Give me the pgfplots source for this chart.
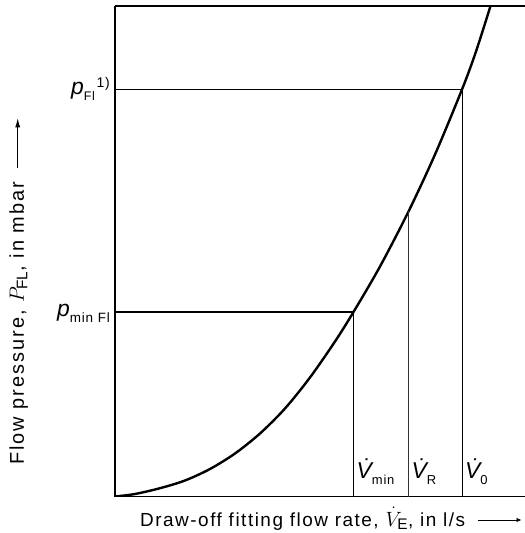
\documentclass[border=0pt]{standalone}
\usepackage{fontspec}
\setmainfont{Liberation Sans}[LetterSpace=6]
\usepackage{pgfplots}
\pgfplotsset{compat=1.18}
\usetikzlibrary{arrows.meta}

% symbol helpers
\newcommand{\bigsym}[1]{{\fontsize{23}{23}\selectfont\itshape #1}}
\newcommand{\subt}[2][12]{{\fontsize{#1}{#1}\selectfont\raisebox{-6bp}{#2}}}
\newcommand{\Vdot}{\bigsym{\.V}}
\newcommand{\bigmath}[1]{{\fontsize{22}{22}\selectfont$#1$}}

\begin{document}
\begin{tikzpicture}
\begin{axis}[
    scale only axis,
    width=410bp, height=490.5bp,
    xmin=0, xmax=410, ymin=0, ymax=490.5,
    axis x line=box, axis y line=left,
    axis line style={-, line width=1.6bp},
    every outer x axis line/.append style={-},
    every outer y axis line/.append style={-},
    xtick=\empty, ytick=\empty,
]
% flow pressure curve
\addplot[black, line width=2.4bp, smooth] coordinates {
    (0,0) (20,2.5) (45,8.3) (70,16) (95,27.5) (120,43) (145,63)
    (170,88) (195,119) (220,155) (238.5,184.5) (265,230) (293.5,285)
    (320,342) (347,407) (361,445) (375.5,490.5)
};
% reference lines
\addplot[black, line width=1.3bp] coordinates {(0,407) (347,407)};
\addplot[black, line width=1.3bp] coordinates {(0,184.5) (238.5,184.5)};
\addplot[black, line width=0.9bp] coordinates {(347,407) (347,0)};
\addplot[black, line width=0.9bp] coordinates {(238.5,184.5) (238.5,0)};
\addplot[black!80, line width=0.8bp] coordinates {(293.5,285) (293.5,0)};

\coordinate (pfl) at (axis cs:0,407);
\coordinate (pmin) at (axis cs:0,184.5);
\coordinate (vmin) at (axis cs:238.5,18.5);
\coordinate (vr) at (axis cs:293.5,18.5);
\coordinate (vo) at (axis cs:347,18.5);
\end{axis}

\node[anchor=base east, inner sep=0pt, xshift=-5bp, yshift=-5bp] at (pfl)
    {\bigsym{p}\subt[12.5]{Fl}\,\raisebox{7bp}{\fontsize{14}{14}\selectfont 1)}};
\node[anchor=base east, inner sep=0pt, xshift=-5bp, yshift=-5bp] at (pmin)
    {\bigsym{p}\subt[13.5]{min Fl}};

\node[anchor=base west, inner sep=0pt, xshift=3bp] at (vmin) {\Vdot\subt[13]{min}};
\node[anchor=base west, inner sep=0pt, xshift=3bp] at (vr) {\Vdot\subt[13]{R}};
\node[anchor=base west, inner sep=0pt, xshift=3bp] at (vo) {\Vdot\subt[13]{0}};

\node[anchor=base west, inner sep=0pt, font=\fontsize{19}{22}\selectfont\addfontfeatures{LetterSpace=8}] at (25bp,-29.5bp)
    {Draw-off fitting flow rate, \bigmath{\dot V_{\mathrm{E}}}, in l/s\;
     \tikz[baseline=-0.6ex]\draw[line width=0.8bp, -{Latex[length=5bp,width=4.5bp]}] (0,0)--(44bp,0);};
\node[rotate=90, anchor=base west, inner sep=0pt, font=\fontsize{20}{23}\selectfont\addfontfeatures{LetterSpace=10}] at (-91bp,31.5bp)
    {Flow pressure, \bigmath{P_{\mathrm{FL}}}, in mbar\;
     \tikz[baseline=-0.6ex]\draw[line width=0.8bp, -{Latex[length=9bp,width=5bp]}] (0,0)--(50bp,0);};

\pgfresetboundingbox
\path (-115bp,-36.5bp) rectangle (410bp,496.5bp);
\end{tikzpicture}
\end{document}
